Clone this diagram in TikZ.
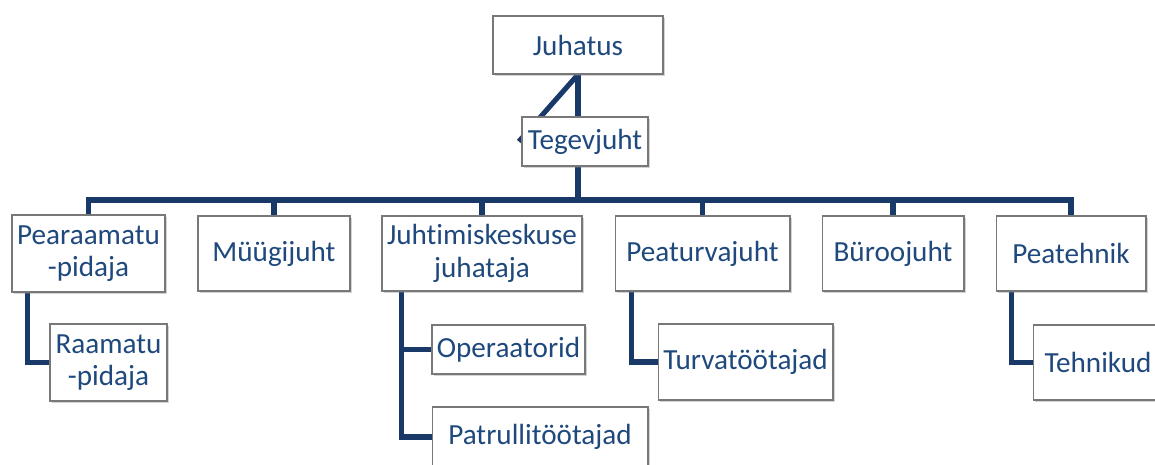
\documentclass[tikz,border=0pt]{standalone}
\usepackage{fontspec}
\setmainfont{Carlito}[Ligatures={NoCommon}]
\usepackage{xcolor}
\definecolor{OrgText}{RGB}{31,73,125}
\definecolor{OrgLine}{RGB}{25,58,105}
\definecolor{OrgBorder}{RGB}{120,120,120}
\usetikzlibrary{positioning, shadows, backgrounds, calc}

\begin{document}
\begin{tikzpicture}[x=0.02cm, y=-0.02cm, font=\fontsize{16.6}{18.5}\selectfont]
    \tikzset{
        orgbox/.style={rectangle, draw=OrgBorder, line width=0.6pt, fill=white,
            text=OrgText, align=center, inner sep=2pt, minimum height=1.5cm,
            drop shadow={shadow xshift=0.9pt, shadow yshift=-1.4pt, opacity=0.35}},
        smallbox/.style={orgbox, minimum height=0.98cm},
        conn/.style={draw=OrgLine, line width=2.9pt}
    }
    \clip (0,0) rectangle (1155,464);
    % top of the chart
    \node[orgbox, minimum width=3.4cm, minimum height=1.16cm] (juhatus) at (578,45) {Juhatus};
    \node[smallbox, minimum width=2.52cm] (tegevjuht) at (585,141.5) {Tegevjuht};
    % department heads
    \node[orgbox, minimum width=3.06cm, minimum height=1.54cm] (pearaamat) at (88.5,253.5) {Pearaamatu\\-pidaja};
    \node[orgbox, minimum width=3.04cm] (muugi) at (274,253.5) {Müügijuht};
    \node[orgbox, minimum width=4.0cm] (juhtimis) at (482,253.5) {Juhtimiskeskuse\\juhataja};
    \node[orgbox, minimum width=3.5cm] (peaturva) at (702.5,253.5) {Peaturvajuht};
    \node[orgbox, minimum width=2.84cm] (buroo) at (893,253.5) {Büroojuht};
    \node[orgbox, minimum width=3.0cm] (peatehnik) at (1071,253.5) {Peatehnik};
    % staff
    \node[orgbox, minimum width=2.34cm, minimum height=1.54cm] (raamat) at (108.5,362.5) {Raamatu\\-pidaja};
    \node[smallbox, minimum width=3.06cm] (operaator) at (508.5,349.5) {Operaatorid};
    \node[orgbox, minimum width=4.32cm, minimum height=1.2cm] (patrull) at (540,437) {Patrullitöötajad};
    \node[orgbox, minimum width=3.5cm, minimum height=1.52cm] (turva) at (745.5,362) {Turvatöötajad};
    \node[orgbox, minimum width=2.6cm] (tehnik) at (1098,362.5) {Tehnikud};
    % connectors behind the boxes
    \begin{scope}[on background layer]
        \coordinate (bar) at (578,200);
        \draw[conn] (juhatus.south) -- (bar);
        \draw[conn] (juhatus.south) -- ([xshift=-1.5pt]tegevjuht.west);
        \draw[conn] (pearaamat.north) -- (pearaamat.north |- bar) -| (peatehnik.north);
        \foreach \n in {muugi, juhtimis, peaturva, buroo}
            \draw[conn] (\n.north) -- (\n.north |- bar);
        \draw[conn] ([xshift=0.32cm]pearaamat.south west) |- (raamat.west);
        \draw[conn] ([xshift=0.4cm]juhtimis.south west) |- (operaator.west);
        \draw[conn] ([xshift=0.4cm]juhtimis.south west) |- (patrull.west);
        \draw[conn] ([xshift=0.34cm]peaturva.south west) |- (turva.west);
        \draw[conn] ([xshift=0.32cm]peatehnik.south west) |- (tehnik.west);
    \end{scope}
\end{tikzpicture}
\end{document}
